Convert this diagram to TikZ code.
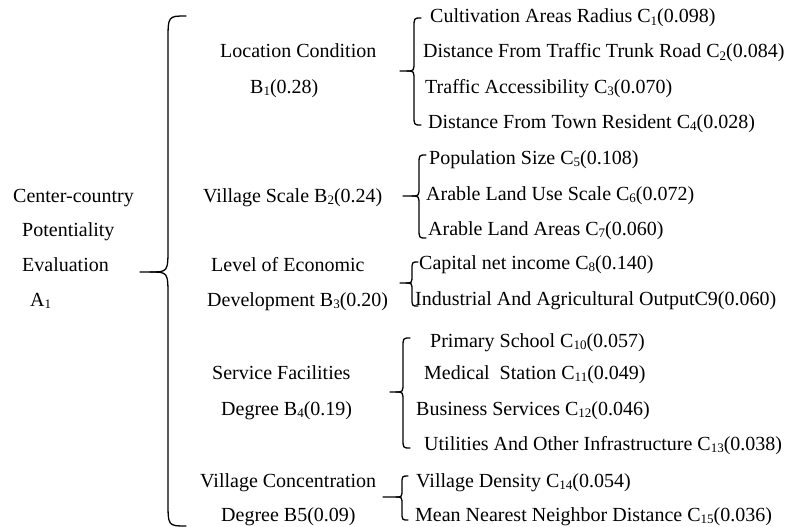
\documentclass[tikz,border=0pt]{standalone}
\usepackage{fontspec}
\setmainfont{Liberation Serif}
\newcommand{\sbs}[1]{\raisebox{-0.12em}{\fontsize{13}{13}\selectfont #1}}
% curly brace: vertical x, top y, tip y, bottom y, tip x, hook size
\newcommand{\curlybr}[6]{%
  \draw[brc] ({#1+#6},#2) .. controls (#1,#2) .. (#1,{#2+1.4*#6}) -- (#1,{#3-1.4*#6})
    .. controls (#1,#3) .. ({#1-#6},#3) -- (#5,#3);
  \draw[brc] ({#1-#6},#3) .. controls (#1,#3) .. (#1,{#3+1.4*#6}) -- (#1,{#4-1.4*#6})
    .. controls (#1,#4) .. ({#1+#6},#4);
}
\tikzset{
  lbl/.style={anchor=base west, inner sep=0pt, yshift=-6pt, font=\fontsize{20}{22}\selectfont},
  brc/.style={line width=1.3pt, line cap=round}
}
\begin{document}
\begin{tikzpicture}[x=1pt,y=-1pt]
\useasboundingbox (0,0) rectangle (787,527);
% goal
\node[lbl] (a1) at (13,196) {Center-country};
\node[lbl] (a2) at (22,230) {Potentiality};
\node[lbl] (a3) at (22,265) {Evaluation};
\node[lbl] (a4) at (30,300) {A\sbs{1}};
% criteria
\node[lbl] (b1a) at (220,52) {Location Condition};
\node[lbl] (b1b) at (250,87) {B\sbs{1}(0.28)};
\node[lbl] (b2) at (203,196) {Village Scale B\sbs{2}(0.24)};
\node[lbl] (b3a) at (211,265) {Level of Economic};
\node[lbl] (b3b) at (207,300) {Development B\sbs{3}(0.20)};
\node[lbl] (b4a) at (212,373) {Service Facilities};
\node[lbl] (b4b) at (221,409) {Degree B\sbs{4}(0.19)};
\node[lbl] (b5a) at (200,481) {Village Concentration};
\node[lbl] (b5b) at (221,515) {Degree B5(0.09)};
% indicators
\node[lbl] (c1) at (430,17) {Cultivation Areas Radius C\sbs{1}(0.098)};
\node[lbl] (c2) at (423,52) {Distance From Traffic Trunk Road C\sbs{2}(0.084)};
\node[lbl] (c3) at (425,87) {Traffic Accessibility C\sbs{3}(0.070)};
\node[lbl] (c4) at (428,122) {Distance From Town Resident C\sbs{4}(0.028)};
\node[lbl] (c5) at (429,158) {Population Size C\sbs{5}(0.108)};
\node[lbl] (c6) at (426,194) {Arable Land Use Scale C\sbs{6}(0.072)};
\node[lbl] (c7) at (428,229) {Arable Land Areas C\sbs{7}(0.060)};
\node[lbl] (c8) at (419,263) {Capital net income C\sbs{8}(0.140)};
\node[lbl] (c9) at (415,299) {Industrial And Agricultural OutputC9(0.060)};
\node[lbl] (c10) at (430,341) {Primary School C\sbs{10}(0.057)};
\node[lbl] (c11) at (424,373) {Medical\ \ Station C\sbs{11}(0.049)};
\node[lbl] (c12) at (416,409) {Business Services C\sbs{12}(0.046)};
\node[lbl] (c13) at (424,444) {Utilities And Other Infrastructure C\sbs{13}(0.038)};
\node[lbl] (c14) at (416,481) {Village Density C\sbs{14}(0.054)};
\node[lbl] (c15) at (415,515) {Mean Nearest Neighbor Distance C\sbs{15}(0.036)};
% braces
\curlybr{168}{16}{272}{526}{140}{18}
\curlybr{414}{18}{71}{125}{400}{7}
\curlybr{419}{155}{196}{238}{403}{7}
\curlybr{412}{262}{283}{306}{400}{6}
\curlybr{403}{338}{392}{448}{390}{7}
\curlybr{402}{476}{497}{520}{383}{6}
\end{tikzpicture}
\end{document}
